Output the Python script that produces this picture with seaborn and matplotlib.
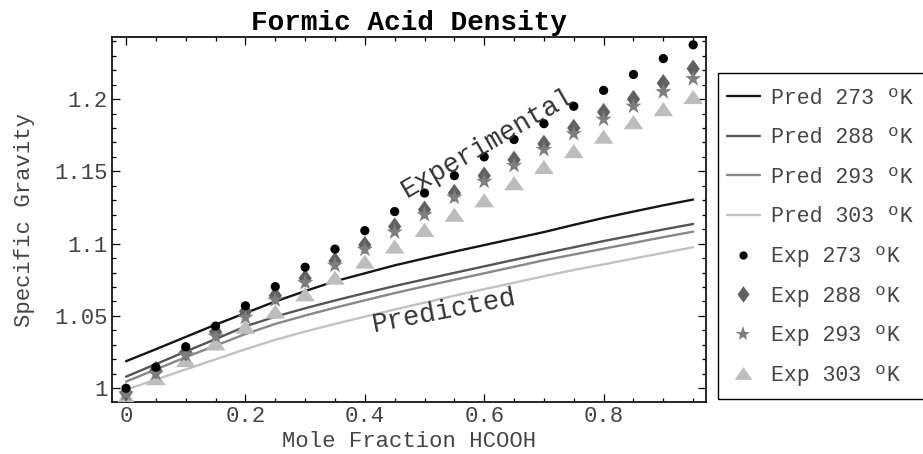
import numpy as np
import pandas as pd
import matplotlib
matplotlib.use("Agg")
import matplotlib.pyplot as plt
import seaborn as sns
from matplotlib.lines import Line2D
from matplotlib.patches import Rectangle
from matplotlib.ticker import MultipleLocator, FuncFormatter

# ---------------- data ----------------
mole_fraction = [0.00, 0.05, 0.10, 0.15, 0.20, 0.25, 0.30, 0.35, 0.40, 0.45,
                 0.50, 0.55, 0.60, 0.65, 0.70, 0.75, 0.80, 0.85, 0.90, 0.95]

pred_273 = [1.0187, 1.0270, 1.0355, 1.0440, 1.0520, 1.0600, 1.0672, 1.0740, 1.0795, 1.0850,
            1.0898, 1.0945, 1.0990, 1.1035, 1.1080, 1.1130, 1.1178, 1.1222, 1.1265, 1.1305]
pred_288 = [1.0080, 1.0167, 1.0254, 1.0340, 1.0428, 1.0495, 1.0553, 1.0607, 1.0658, 1.0707,
            1.0753, 1.0798, 1.0843, 1.0888, 1.0932, 1.0975, 1.1018, 1.1058, 1.1098, 1.1136]
pred_293 = [1.0046, 1.0130, 1.0215, 1.0295, 1.0375, 1.0445, 1.0503, 1.0557, 1.0608, 1.0658,
            1.0705, 1.0750, 1.0795, 1.0840, 1.0885, 1.0925, 1.0965, 1.1005, 1.1045, 1.1083]
pred_303 = [0.9990, 1.0060, 1.0130, 1.0200, 1.0270, 1.0335, 1.0392, 1.0445, 1.0495, 1.0545,
            1.0592, 1.0640, 1.0685, 1.0730, 1.0775, 1.0818, 1.0857, 1.0897, 1.0936, 1.0975]

exp_273 = [1.0000, 1.0146, 1.0287, 1.0430, 1.0570, 1.0703, 1.0837, 1.0962, 1.1090, 1.1222,
           1.1350, 1.1470, 1.1600, 1.1720, 1.1830, 1.1950, 1.2060, 1.2170, 1.2280, 1.2375]
exp_288 = [0.9970, 1.0125, 1.0250, 1.0390, 1.0530, 1.0640, 1.0760, 1.0880, 1.0990, 1.1118,
           1.1235, 1.1350, 1.1470, 1.1580, 1.1690, 1.1800, 1.1910, 1.2000, 1.2110, 1.2210]
exp_293 = [0.9960, 1.0100, 1.0230, 1.0360, 1.0490, 1.0610, 1.0730, 1.0850, 1.0960, 1.1080,
           1.1200, 1.1320, 1.1430, 1.1540, 1.1650, 1.1760, 1.1860, 1.1950, 1.2050, 1.2140]
exp_303 = [0.9940, 1.0070, 1.0195, 1.0310, 1.0425, 1.0530, 1.0650, 1.0765, 1.0876, 1.0980,
           1.1095, 1.1200, 1.1300, 1.1418, 1.1530, 1.1640, 1.1740, 1.1840, 1.1930, 1.2014]

pred_labels = ["Pred 273 ºK", "Pred 288 ºK", "Pred 293 ºK", "Pred 303 ºK"]
exp_labels = ["Exp 273 ºK", "Exp 288 ºK", "Exp 293 ºK", "Exp 303 ºK"]

# ---------------- style ----------------
sns.set_style("ticks")
plt.rcParams['font.family'] = ['Liberation Mono', 'DejaVu Sans Mono']
TXT = "#444444"

W, H = 923, 454
fig = plt.figure(figsize=(W / 100, H / 100), dpi=100)
ax = fig.add_axes([111.7 / W, (H - 402) / H, (706 - 111.7) / W, (402 - 37.3) / H])

pred_colors = ["#151515", "#555555", "#888888", "#c2c2c2"]
for vals, col, lab in zip([pred_273, pred_288, pred_293, pred_303], pred_colors, pred_labels):
    sns.lineplot(x=mole_fraction, y=vals, color=col, linewidth=1.7, ax=ax,
                 legend=False, zorder=2)

diamond = [(0, 1), (0.72, 0), (0, -1), (-0.72, 0)]
triangle = [(-1, -0.72), (1, -0.72), (0, 0.72)]

exp_styles = [
    (exp_273, "#000000", "o", 44, exp_labels[0]),
    (exp_288, "#616161", diamond, 175, exp_labels[1]),
    (exp_293, "#7e7e7e", "*", 150, exp_labels[2]),
    (exp_303, "#bdbdbd", triangle, 200, exp_labels[3]),
]

# draw order: triangles, diamonds, stars, dots
draw_order = [3, 1, 2, 0]
for k, i in enumerate(draw_order):
    vals, col, mk, s, lab = exp_styles[i]
    sns.scatterplot(x=mole_fraction, y=vals, color=col, marker=mk, s=s,
                    edgecolor="none", linewidth=0, ax=ax, legend=False, zorder=3 + k)

ax.set_xlim(-0.024, 0.9715)
ax.set_ylim(0.9905, 1.2427)
ax.xaxis.set_major_locator(MultipleLocator(0.2))
ax.xaxis.set_minor_locator(MultipleLocator(0.05))
ax.yaxis.set_major_locator(MultipleLocator(0.05))
ax.yaxis.set_minor_locator(MultipleLocator(0.01))
fmt = FuncFormatter(lambda v, p: "%g" % round(v, 4))
ax.xaxis.set_major_formatter(fmt)
ax.yaxis.set_major_formatter(fmt)
ax.tick_params(which="both", direction="in", top=True, right=True, color="black", width=0.9)
ax.tick_params(which="major", length=6, labelsize=16, labelcolor=TXT, pad=3)
ax.tick_params(which="minor", length=3)
for sp in ax.spines.values():
    sp.set_visible(True)
    sp.set_color("black")
    sp.set_linewidth(1.2)

ax.set_xlabel("Mole Fraction HCOOH", fontsize=16, color=TXT, labelpad=3)
ax.set_ylabel("Specific Gravity", fontsize=16, color=TXT, labelpad=14)
ax.set_title("Formic Acid Density", fontsize=20, fontweight="bold", color="black", pad=5)

ax.text(0.606, 1.1694, "Experimental", fontsize=19.5, color="#333333", rotation=30,
        ha="center", va="center", rotation_mode="anchor", zorder=10)
ax.text(0.533, 1.053, "Predicted", fontsize=19.5, color="#333333", rotation=11,
        ha="center", va="center", rotation_mode="anchor", zorder=10)

handles = []
for col, lab in zip(pred_colors, pred_labels):
    handles.append(Line2D([], [], color=col, linewidth=1.7, label=lab))
for vals, col, mk, s, lab in exp_styles:
    handles.append(Line2D([], [], linestyle="none", marker=mk, color=col,
                          markersize=np.sqrt(s) * 0.9, markeredgewidth=0, label=lab))

leg = fig.legend(handles=handles, loc="upper left", bbox_to_anchor=(718 / W, 1 - 79 / H),
                 fontsize=15.5, frameon=False,
                 handlelength=1.55, handletextpad=0.5, labelspacing=0.865, borderpad=0.4,
                 borderaxespad=0)
for t in leg.get_texts():
    t.set_color(TXT)

# legend frame (open on the right edge, as in the original image)
fig.patches.append(Rectangle((718 / W, (H - 399) / H), (925 - 718) / W, (399 - 73) / H,
                             transform=fig.transFigure, fill=False, edgecolor="black",
                             linewidth=1.0))

fig.savefig("out.png", dpi=100)
